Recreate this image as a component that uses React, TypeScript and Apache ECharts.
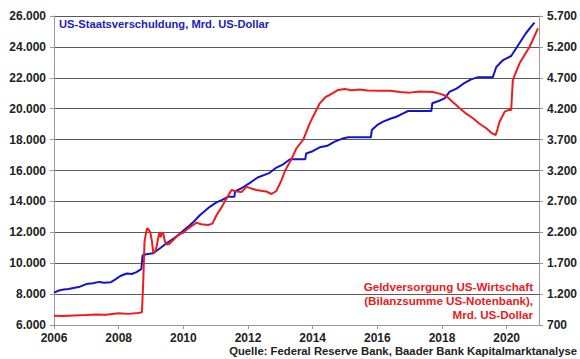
import React, { useEffect, useRef } from "react";
import * as echarts from "echarts";

const yearTicks = [2006, 2008, 2010, 2012, 2014, 2016, 2018, 2020];

const debtDates = [
  2006.0, 2006.15, 2006.3, 2006.45, 2006.6, 2006.8, 2007.0, 2007.2, 2007.4, 2007.55, 2007.75, 2007.9,
  2008.05, 2008.25, 2008.4, 2008.55, 2008.7, 2008.74, 2008.85, 2009.07, 2009.3, 2009.48, 2009.7, 2009.89,
  2010.05, 2010.2, 2010.35, 2010.51, 2010.82, 2011.0, 2011.2, 2011.38, 2011.58, 2011.6, 2011.8, 2012.06,
  2012.3, 2012.67, 2012.85, 2013.09, 2013.3, 2013.77, 2013.8, 2014.0, 2014.22, 2014.45, 2014.68, 2014.9,
  2015.1, 2015.8, 2015.83, 2016.0, 2016.18, 2016.4, 2016.59, 2016.8, 2016.95, 2017.67, 2017.7, 2017.9,
  2018.08, 2018.24, 2018.45, 2018.65, 2018.9, 2019.1, 2019.57, 2019.68, 2019.89, 2020.14, 2020.4, 2020.6,
  2020.86,
];
const debtValues = [
  8100, 8230, 8300, 8330, 8400, 8480, 8650, 8700, 8790, 8740, 8760, 8950,
  9170, 9330, 9300, 9420, 9620, 10500, 10580, 10640, 11000, 11290, 11600, 11900,
  12200, 12450, 12750, 13100, 13650, 13900, 14100, 14300, 14300, 14650, 14850, 15200,
  15550, 15850, 16150, 16400, 16725, 16725, 17100, 17250, 17500, 17600, 17870, 18050,
  18150, 18150, 18620, 18950, 19160, 19350, 19480, 19700, 19850, 19850, 20350, 20500,
  20670, 21100, 21300, 21600, 21900, 22030, 22030, 22700, 23150, 23410, 24250, 24900,
  25570,
];

const fedDates = [
  2006.0, 2006.3, 2006.6, 2007.0, 2007.3, 2007.6, 2008.0, 2008.3, 2008.6, 2008.72, 2008.76, 2008.8,
  2008.84, 2008.88, 2008.93, 2008.98, 2009.03, 2009.07, 2009.12, 2009.17, 2009.22, 2009.26, 2009.3, 2009.34,
  2009.38, 2009.43, 2009.5, 2009.56, 2009.64, 2009.72, 2009.79, 2009.9, 2009.99, 2010.1, 2010.25, 2010.41,
  2010.55, 2010.77, 2010.9, 2011.03, 2011.2, 2011.34, 2011.49, 2011.65, 2011.8, 2011.95, 2012.1, 2012.26,
  2012.45, 2012.57, 2012.73, 2012.88, 2013.04, 2013.15, 2013.34, 2013.5, 2013.71, 2013.9, 2014.01, 2014.22,
  2014.4, 2014.53, 2014.79, 2015.0, 2015.2, 2015.45, 2015.7, 2016.07, 2016.4, 2016.7, 2017.0, 2017.31,
  2017.72, 2017.95, 2018.13, 2018.35, 2018.55, 2018.75, 2018.96, 2019.15, 2019.37, 2019.55, 2019.66, 2019.72,
  2019.78, 2019.94, 2020.07, 2020.14, 2020.19, 2020.24, 2020.4, 2020.71, 2020.97,
];
const fedValues = [
  850, 845, 855, 860, 870, 865, 890, 880, 895, 905, 1400, 2050,
  2170, 2265, 2240, 2200, 2050, 1870, 1880, 1960, 2100, 2200, 2120, 2190,
  2180, 2050, 2000, 2010, 2050, 2090, 2130, 2170, 2190, 2240, 2300, 2356,
  2330, 2318, 2340, 2480, 2620, 2750, 2885, 2860, 2850, 2935, 2910, 2885,
  2870, 2860, 2820, 2870, 3047, 3200, 3380, 3560, 3700, 3950, 4071, 4287,
  4390, 4422, 4503, 4519, 4500, 4510, 4495, 4492, 4490, 4470, 4460, 4480,
  4470, 4440, 4406, 4300, 4207, 4120, 4045, 3960, 3883, 3800, 3775, 3870,
  3990, 4152, 4180, 4180, 4650, 4730, 4935, 5203, 5500,
];

const fedLabelLines = [
  "Geldversorgung US-Wirtschaft",
  "(Bilanzsumme US-Notenbank),",
  "Mrd. US-Dollar",
];

const rightBase = 700;

const fmt = (n: number) => String(Math.round(n)).replace(/\B(?=(\d{3})+(?!\d))/g, ".");

const FONT = "'Liberation Sans', Arial, sans-serif";

export default function App() {
  const ref = useRef<HTMLDivElement>(null);
  useEffect(() => {
    document.body.style.margin = "0";
    if (!ref.current) return;
    const chart = echarts.init(ref.current, null, { renderer: "svg" });
    const labelStyle = { color: "#222", fontSize: 12, fontWeight: "bold" as const, fontFamily: FONT };
    chart.setOption({
      animation: false,
      backgroundColor: "#fff",
      grid: { left: 54, right: 41, top: 16, bottom: 34, containLabel: false },
      xAxis: {
        type: "value",
        min: 2006,
        max: 2021,
        interval: 2,
        axisLine: { show: true, lineStyle: { color: "#999", width: 1 } },
        axisTick: { show: true, length: 4, lineStyle: { color: "#999" } },
        axisLabel: {
          ...labelStyle,
          margin: 7,
          showMaxLabel: false,
          formatter: (v: number) => (yearTicks.includes(v) ? String(v) : ""),
        },
        splitLine: { show: false },
      },
      yAxis: [
        {
          type: "value",
          min: 6000,
          max: 26000,
          interval: 2000,
          position: "left",
          axisLine: { show: true, lineStyle: { color: "#999", width: 1 } },
          axisTick: { show: true, length: 4, lineStyle: { color: "#999" } },
          axisLabel: { ...labelStyle, margin: 8, formatter: (v: number) => fmt(v) },
          splitLine: { show: true, lineStyle: { color: "#5a5a5a", width: 1 } },
        },
        {
          type: "value",
          min: 0,
          max: 5000,
          interval: 500,
          position: "right",
          axisLine: { show: true, lineStyle: { color: "#999", width: 1 } },
          axisTick: { show: true, length: 4, lineStyle: { color: "#999" } },
          axisLabel: { ...labelStyle, margin: 8, formatter: (v: number) => fmt(v + rightBase) },
          splitLine: { show: false },
        },
      ],
      series: [
        {
          type: "line",
          yAxisIndex: 0,
          data: debtDates.map((d, i) => [d, debtValues[i]]),
          showSymbol: false,
          lineStyle: { color: "#1414c8", width: 2 },
          z: 2,
        },
        {
          type: "line",
          yAxisIndex: 1,
          data: fedDates.map((d, i) => [d, fedValues[i] - rightBase]),
          showSymbol: false,
          lineStyle: { color: "#ee1c1c", width: 2 },
          z: 3,
        },
      ],
      graphic: [
        {
          type: "text",
          left: 59,
          top: 18,
          style: {
            text: "US-Staatsverschuldung, Mrd. US-Dollar",
            fill: "#2222b4",
            font: `bold 11.2px ${FONT}`,
          },
        },
        ...fedLabelLines.map((line, i) => ({
          type: "text",
          right: 47,
          top: 280 + i * 14,
          style: {
            text: line,
            fill: "#e8201c",
            font: `bold 11.6px ${FONT}`,
          },
        })),
        {
          type: "text",
          right: 3,
          top: 345,
          style: {
            text: "Quelle: Federal Reserve Bank, Baader Bank Kapitalmarktanalyse",
            fill: "#222",
            font: `bold 11.3px ${FONT}`,
          },
        },
      ],
    });
    return () => chart.dispose();
  }, []);
  return <div ref={ref} style={{ width: 580, height: 359 }} />;
}
